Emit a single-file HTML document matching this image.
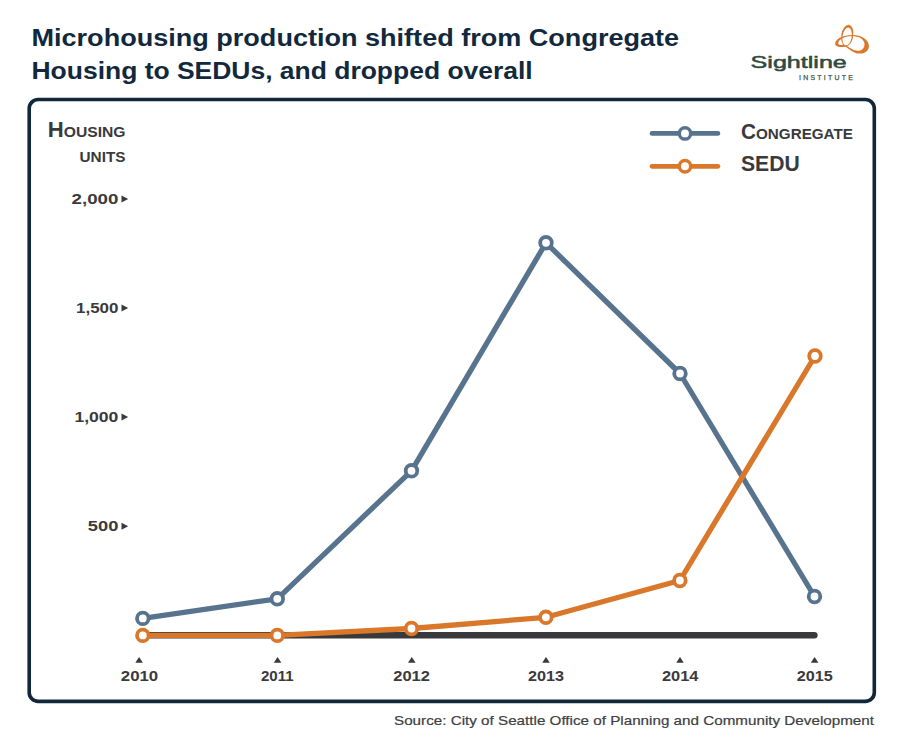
<!DOCTYPE html>
<html>
<head>
<meta charset="utf-8">
<title>Microhousing production</title>
<style>
  html, body { margin: 0; padding: 0; background: #ffffff; }
  body { width: 900px; height: 737px; overflow: hidden; font-family: "Liberation Sans", sans-serif; }
  svg { display: block; }
  text { font-family: "Liberation Sans", sans-serif; }
  .ttl { font-weight: bold; font-size: 23.5px; fill: #12283c; }
  .ax  { font-weight: bold; font-size: 15px; fill: #3a3a3c; }
  .src { font-weight: normal; font-size: 13.2px; fill: #404042; stroke: #404042; stroke-width: 0.2px; }
</style>
</head>
<body>
<svg width="900" height="737" viewBox="0 0 900 737">
  <rect x="0" y="0" width="900" height="737" fill="#ffffff"/>

  <!-- Title -->
  <text class="ttl" x="31.5" y="45.7" textLength="647.6" lengthAdjust="spacingAndGlyphs">Microhousing production shifted from Congregate</text>
  <text class="ttl" x="31.5" y="78.9" textLength="501.2" lengthAdjust="spacingAndGlyphs">Housing to SEDUs, and dropped overall</text>

  <!-- Logo -->
  <g id="logo">
    <text x="750.6" y="67.9" textLength="96.2" lengthAdjust="spacingAndGlyphs" font-size="16.4" fill="#2d4a40" stroke="#2d4a40" stroke-width="0.5">Sightline</text>
    <text x="799.1" y="80.4" textLength="53.7" lengthAdjust="spacing" font-size="6.9" fill="#40574d" stroke="#40574d" stroke-width="0.25">INSTITUTE</text>
    <g fill="#d9772b" fill-rule="evenodd" transform="translate(825 15) scale(0.06789)">
      <g transform="translate(328 302) rotate(9)"><path d="M-88,0 A88,160 0 1 0 88,0 A88,160 0 1 0 -88,0 Z M-68,16 A68,134 0 1 0 68,16 A68,134 0 1 0 -68,16 Z"/></g>
      <path d="M150,420 C150,350 270,293 400,293 C540,293 647,365 647,455 C647,525 590,568 510,568 C420,568 370,505 300,467 C250,470 150,485 150,420 Z M195,412 C190,445 245,445 285,440 C330,455 400,528 485,528 C550,528 582,480 582,430 C582,360 500,308 400,308 C300,308 200,355 195,412 Z"/>
    </g>
  </g>

  <!-- Frame -->
  <rect x="29.2" y="99.5" width="845.1" height="601.9" rx="9" ry="9" fill="none" stroke="#11273b" stroke-width="3.6"/>

  <!-- Y axis header -->
  <text x="47.7" y="136.6" textLength="77.8" lengthAdjust="spacingAndGlyphs" font-weight="bold" fill="#3a3a3c"><tspan font-size="21.6">H</tspan><tspan font-size="15.3">OUSING</tspan></text>
  <text x="79.5" y="161.7" textLength="46" lengthAdjust="spacingAndGlyphs" font-weight="bold" font-size="14.7" fill="#3a3a3c">UNITS</text>

  <!-- Y tick labels -->
  <text class="ax" x="71.6" y="204.4" textLength="46.8" lengthAdjust="spacingAndGlyphs">2,000</text>
  <text class="ax" x="76" y="313.1" textLength="42.4" lengthAdjust="spacingAndGlyphs">1,500</text>
  <text class="ax" x="74.4" y="422.1" textLength="44" lengthAdjust="spacingAndGlyphs">1,000</text>
  <text class="ax" x="87.8" y="531.4" textLength="30.5" lengthAdjust="spacingAndGlyphs">500</text>
  <g fill="#3a3a3c">
    <path d="M121.5 195.5 L128.2 199 L121.5 202.5 Z"/>
    <path d="M121.5 304.5 L128.2 308 L121.5 311.5 Z"/>
    <path d="M121.5 413.5 L128.2 417 L121.5 420.5 Z"/>
    <path d="M121.5 522.7 L128.2 526.2 L121.5 529.7 Z"/>
  </g>

  <!-- X tick labels -->
  <g fill="#3a3a3c">
    <path d="M135.3 662.8 L139.1 657 L142.9 662.8 Z"/>
    <path d="M273.8 662.8 L277.6 657 L281.4 662.8 Z"/>
    <path d="M408.0 662.8 L411.8 657 L415.6 662.8 Z"/>
    <path d="M542.2 662.8 L546.0 657 L549.8 662.8 Z"/>
    <path d="M676.2 662.8 L680.0 657 L683.8 662.8 Z"/>
    <path d="M810.8 662.8 L814.6 657 L818.4 662.8 Z"/>
  </g>
  <text class="ax" x="120.8" y="680.8" textLength="37.4" lengthAdjust="spacingAndGlyphs">2010</text>
  <text class="ax" x="260.9" y="680.8" textLength="32.7" lengthAdjust="spacingAndGlyphs">2011</text>
  <text class="ax" x="393.3" y="680.8" textLength="36.6" lengthAdjust="spacingAndGlyphs">2012</text>
  <text class="ax" x="528" y="680.8" textLength="36" lengthAdjust="spacingAndGlyphs">2013</text>
  <text class="ax" x="662" y="680.8" textLength="36.5" lengthAdjust="spacingAndGlyphs">2014</text>
  <text class="ax" x="796.7" y="680.8" textLength="36" lengthAdjust="spacingAndGlyphs">2015</text>

  <!-- Baseline -->
  <line x1="142.8" y1="635.3" x2="814.3" y2="635.3" stroke="#39393b" stroke-width="6.6" stroke-linecap="round"/>

  <!-- Congregate -->
  <polyline points="142.8,618.4 277.3,598.8 411.5,470.8 546,242.8 680,373.5 814.5,596.5" fill="none" stroke="#57738d" stroke-width="5.3" stroke-linejoin="round" stroke-linecap="round"/>
  <!-- SEDU -->
  <polyline points="142.8,635.4 277.3,635.4 411.5,628.5 545.9,617.3 679.9,580.5 815,356" fill="none" stroke="#d9772b" stroke-width="5.3" stroke-linejoin="round" stroke-linecap="round"/>

  <g fill="#ffffff" stroke="#57738d" stroke-width="3.8">
    <circle cx="142.8" cy="618.4" r="5.8"/>
    <circle cx="277.3" cy="598.8" r="5.8"/>
    <circle cx="411.5" cy="470.8" r="5.8"/>
    <circle cx="546" cy="242.8" r="5.8"/>
    <circle cx="680" cy="373.5" r="5.8"/>
    <circle cx="814.5" cy="596.5" r="5.8"/>
  </g>
  <g fill="#ffffff" stroke="#d9772b" stroke-width="3.8">
    <circle cx="142.8" cy="635.4" r="5.8"/>
    <circle cx="277.3" cy="635.4" r="5.8"/>
    <circle cx="411.5" cy="628.5" r="5.8"/>
    <circle cx="545.9" cy="617.3" r="5.8"/>
    <circle cx="679.9" cy="580.5" r="5.8"/>
    <circle cx="815" cy="356" r="5.8"/>
  </g>

  <!-- Legend -->
  <line x1="652" y1="133.4" x2="717.9" y2="133.4" stroke="#57738d" stroke-width="4.7" stroke-linecap="round"/>
  <circle cx="685" cy="133.4" r="5.7" fill="#ffffff" stroke="#57738d" stroke-width="3.5"/>
  <line x1="652" y1="166.3" x2="717.9" y2="166.3" stroke="#d9772b" stroke-width="4.7" stroke-linecap="round"/>
  <circle cx="685" cy="166.3" r="5.7" fill="#ffffff" stroke="#d9772b" stroke-width="3.5"/>

  <text x="741" y="138.6" textLength="111.9" lengthAdjust="spacingAndGlyphs" font-weight="bold" fill="#3a3a3c"><tspan font-size="21.2">C</tspan><tspan font-size="15.5">ONGREGATE</tspan></text>
  <text x="741" y="171.3" textLength="58.7" lengthAdjust="spacingAndGlyphs" font-weight="bold" font-size="21.2" fill="#3a3a3c">SEDU</text>

  <!-- Source -->
  <text class="src" x="394" y="724.6" textLength="480" lengthAdjust="spacingAndGlyphs">Source: City of Seattle Office of Planning and Community Development</text>
</svg>
</body>
</html>
